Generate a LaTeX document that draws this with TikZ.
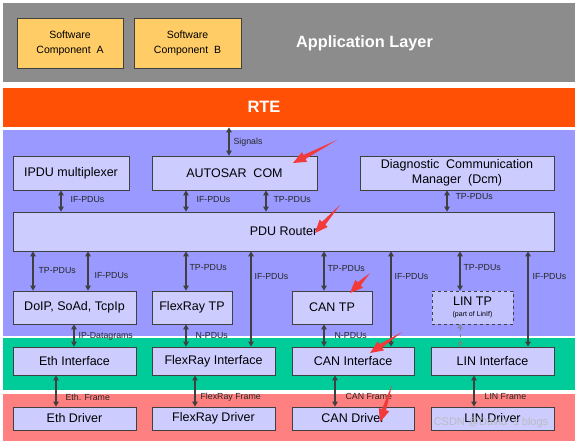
\documentclass[tikz,border=0pt]{standalone}
\usepackage{fontspec}
\setmainfont{Liberation Sans}
\usetikzlibrary{arrows.meta,positioning,calc}

\definecolor{appgray}{HTML}{8C8C8C}
\definecolor{rteorange}{HTML}{FF5005}
\definecolor{svcblue}{HTML}{9999FF}
\definecolor{ifgreen}{HTML}{00CC99}
\definecolor{drvred}{HTML}{FF8080}
\definecolor{boxfill}{HTML}{CCCCFF}
\definecolor{swcfill}{HTML}{FFCC66}
\definecolor{edge}{HTML}{404040}
\definecolor{markred}{HTML}{F23A3A}

\tikzset{
  band/.style={fill=#1, draw=none, anchor=north west, inner sep=0pt, minimum width=572pt},
  modbox/.style={draw=edge, fill=boxfill, line width=0.8pt, align=center, inner sep=1pt,
    font=\fontsize{12.5}{15}\selectfont},
  swcbox/.style={modbox, fill=swcfill, font=\fontsize{10.5}{15}\selectfont},
  link/.style={{Triangle[width=5.5pt,length=5pt]}-{Triangle[width=5.5pt,length=5pt]},
    draw=edge, line width=1.2pt},
  weaklink/.style={{Triangle[open,width=5pt,length=4pt]}-{Triangle[open,width=5pt,length=4pt]},
    draw=gray, dashed, line width=0.7pt},
  lbl/.style={font=\fontsize{8.8}{10}\selectfont, anchor=west, inner sep=0pt, text=black!85}
}

% tapered red marker arrow from tail to tip
\newcommand{\redmark}[2]{%
  \coordinate (rmT) at (#1);
  \coordinate (rmP) at (#2);
  \coordinate (rmH) at ($(rmP)!13pt!(rmT)$);
  \fill[markred] (rmT) -- ($(rmH)!2.2pt!90:(rmP)$) -- ($(rmH)!5.5pt!90:(rmP)$) -- (rmP)
    -- ($(rmH)!5.5pt!-90:(rmP)$) -- ($(rmH)!2.2pt!-90:(rmP)$) -- cycle;}

\begin{document}
\begin{tikzpicture}[x=1pt, y=-1pt]
    \useasboundingbox[fill=white] (0,0) rectangle (575,441);

    % Layer bands
    \node[band=appgray, minimum height=79pt] (app) at (3,3) {};
    \node[band=rteorange, minimum height=39pt] (rte) at (3,88) {};
    \node[band=svcblue, minimum height=206pt] (svc) at (3,130) {};
    \node[band=ifgreen, minimum height=52pt] (ifl) at (3,338) {};
    \node[band=drvred, minimum height=47pt] (drv) at (3,394) {};

    \node[text=white, font=\fontsize{16.3}{18}\selectfont\bfseries] (apptxt) at (364.5,43) {Application Layer};
    \node[text=white, font=\fontsize{16.5}{18}\selectfont\bfseries] (rtetxt) at (264,107) {RTE};

    % Software components
    \node[swcbox, minimum width=106pt, minimum height=50pt] (swca) at (70,43) {Software\\Component\ \ A};
    \node[swcbox, minimum width=107pt, minimum height=50pt] (swcb) at (187.5,43) {Software\\Component\ \ B};

    % Services layer
    \node[modbox, minimum width=116pt, minimum height=34pt] (ipdu) at (71,173) {IPDU multiplexer};
    \node[modbox, minimum width=165pt, minimum height=34pt] (com) at (234.5,173) {AUTOSAR\ \ COM};
    \node[modbox, minimum width=194pt, minimum height=34pt] (dcm) at (457,173) {Diagnostic\ \ Communication\\Manager\ \ (Dcm)};
    \node[modbox, minimum width=541pt, minimum height=39pt] (router) at (283.5,231.5) {PDU Router};

    \node[modbox, minimum width=123pt, minimum height=33pt] (doip) at (74.5,307.5) {DoIP, SoAd, TcpIp};
    \node[modbox, minimum width=80pt, minimum height=33pt] (frtp) at (192,307.5) {FlexRay TP};
    \node[modbox, minimum width=80pt, minimum height=33pt] (cantp) at (332,307.5) {CAN TP};
    \node[modbox, fill=boxfill!80!svcblue, dashed, minimum width=81pt, minimum height=33pt] (lintp) at (472.5,307.5)
        {LIN TP\\[-4pt]{\fontsize{7}{8}\selectfont (part of LinIf)}};

    % Interface layer
    \node[modbox, minimum width=123pt, minimum height=28pt] (ethif) at (74.5,361) {Eth Interface};
    \node[modbox, minimum width=123pt, minimum height=28pt] (frif) at (213.5,361) {FlexRay Interface};
    \node[modbox, minimum width=122pt, minimum height=28pt] (canif) at (353,361) {CAN Interface};
    \node[modbox, minimum width=123pt, minimum height=28pt] (linif) at (492.5,361) {LIN Interface};

    % Driver layer
    \node[modbox, minimum width=123pt, minimum height=23pt] (ethdrv) at (74.5,418.5) {Eth Driver};
    \node[modbox, minimum width=123pt, minimum height=23pt] (frdrv) at (213.5,418.5) {FlexRay Driver};
    \node[modbox, minimum width=122pt, minimum height=23pt] (candrv) at (353,418.5) {CAN Driver};
    \node[modbox, minimum width=123pt, minimum height=23pt] (lindrv) at (492.5,418.5) {LIN Driver};

    % RTE to COM
    \draw[link] (rte.south -| 229,0) -- (com.north -| 229,0) node[lbl, pos=0.52, xshift=4pt] {Signals};

    % Upper modules to PDU Router
    \draw[link] (ipdu.south -| 61,0) -- (router.north -| 61,0) node[lbl, pos=0.41, xshift=9pt] {IF-PDUs};
    \draw[link] (com.south -| 186,0) -- (router.north -| 186,0) node[lbl, pos=0.41, xshift=10pt] {IF-PDUs};
    \draw[link] (com.south -| 266,0) -- (router.north -| 266,0) node[lbl, pos=0.41, xshift=7pt] {TP-PDUs};
    \draw[link] (dcm.south -| 447,0) -- (router.north -| 447,0) node[lbl, pos=0.27, xshift=8pt] {TP-PDUs};

    % PDU Router to TP modules and interfaces
    \draw[link] (router.south -| 33,0) -- (doip.north -| 33,0) node[lbl, pos=0.48, xshift=5pt] {TP-PDUs};
    \draw[link] (router.south -| 88,0) -- (doip.north -| 88,0) node[lbl, pos=0.62, xshift=6pt] {IF-PDUs};
    \draw[link] (router.south -| 186,0) -- (frtp.north -| 186,0) node[lbl, pos=0.42, xshift=3pt] {TP-PDUs};
    \draw[link] (router.south -| 251,0) -- (frif.north -| 251,0) node[lbl, pos=0.26, xshift=3pt] {IF-PDUs};
    \draw[link] (router.south -| 324,0) -- (cantp.north -| 324,0) node[lbl, pos=0.44, xshift=3pt] {TP-PDUs};
    \draw[link] (router.south -| 391,0) -- (canif.north -| 391,0) node[lbl, pos=0.26, xshift=3pt] {IF-PDUs};
    \draw[link] (router.south -| 460,0) -- (lintp.north -| 460,0) node[lbl, pos=0.42, xshift=3pt] {TP-PDUs};
    \draw[link] (router.south -| 528,0) -- (linif.north -| 528,0) node[lbl, pos=0.26, xshift=4pt] {IF-PDUs};

    % TP modules to interfaces
    \draw[link] (doip.south -| 74,0) -- (ethif.north -| 74,0) node[lbl, pos=0.52, xshift=4pt] {IP-Datagrams};
    \draw[link] (frtp.south -| 186,0) -- (frif.north -| 186,0) node[lbl, pos=0.52, xshift=9pt] {N-PDUs};
    \draw[link] (cantp.south -| 324,0) -- (canif.north -| 324,0) node[lbl, pos=0.52, xshift=10pt] {N-PDUs};
    \draw[weaklink] (lintp.south -| 460,0) -- (linif.north -| 460,0);

    % Interfaces to drivers
    \draw[link] (ethif.south -| 56,0) -- (ethdrv.north -| 56,0) node[lbl, pos=0.69, xshift=9pt] {Eth. Frame};
    \draw[link] (frif.south -| 195,0) -- (frdrv.north -| 195,0) node[lbl, pos=0.69, xshift=5pt] {FlexRay Frame};
    \draw[link] (canif.south -| 335,0) -- (candrv.north -| 335,0) node[lbl, pos=0.69, xshift=10pt] {CAN Frame};
    \draw[link] (linif.south -| 474,0) -- (lindrv.north -| 474,0) node[lbl, pos=0.69, xshift=10pt] {LIN Frame};

    % Red markers
    \redmark{337,140}{293,163}
    \redmark{340,205}{315,233}
    \redmark{370,273}{350,293}
    \redmark{402,332}{370,353}
    \redmark{392,385}{380,422}

    % Watermark
    \node[text=gray!55, opacity=0.9, font=\fontsize{11}{12}\selectfont] (mark) at (491,423) {CSDN @David\ \ s blogs};
\end{tikzpicture}
\end{document}
